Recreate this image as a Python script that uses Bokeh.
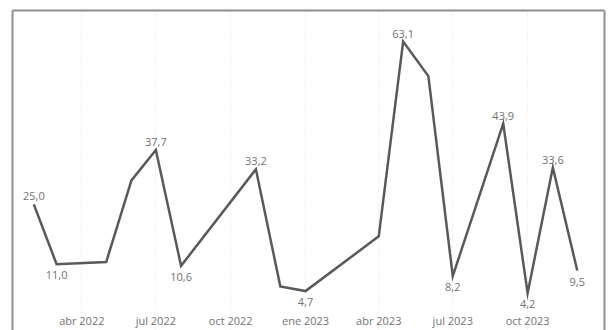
import pandas as pd
from bokeh.plotting import figure
from bokeh.models import ColumnDataSource, Range1d, FixedTicker, LinearAxis
from bokeh.core.properties import value
from bokeh.embed import file_html
from bokeh.resources import INLINE

# Monthly series (months without a record are simply absent)
months = ["2022-02", "2022-03", "2022-05", "2022-06", "2022-07", "2022-08",
          "2022-11", "2022-12", "2023-01", "2023-04", "2023-05", "2023-06",
          "2023-07", "2023-09", "2023-10", "2023-11", "2023-12"]
values = [25.0, 11.0, 11.5, 30.6, 37.7, 10.6,
          33.2, 5.8, 4.7, 17.5, 63.1, 55.0,
          8.2, 43.9, 4.2, 33.6, 9.5]

tick_months = ["2022-04", "2022-07", "2022-10", "2023-01", "2023-04", "2023-07", "2023-10"]
tick_labels = ["abr 2022", "jul 2022", "oct 2022", "ene 2023", "abr 2023", "jul 2023", "oct 2023"]

FONT = "Open Sans"
BORDER = "#8f8f8f"
LINE = "#595959"
TEXT = "#727272"

EPOCH = pd.Timestamp("1970-01-01")
MS = pd.Timedelta(milliseconds=1)


def to_ms(stamps):
    return [float((pd.Timestamp(s) - EPOCH) // MS) for s in stamps]


x = to_ms(pd.to_datetime(months, format="%Y-%m"))
ticks = to_ms(pd.to_datetime(tick_months, format="%Y-%m"))

# label only local peaks/troughs, placed above peaks and below troughs
above = {"x": [], "y": [], "t": []}
below = {"x": [], "y": [], "t": []}
n = len(values)
for i, v in enumerate(values):
    prev_v = values[i - 1] if i > 0 else None
    next_v = values[i + 1] if i < n - 1 else None
    neighbours = [w for w in (prev_v, next_v) if w is not None]
    label = f"{v:.1f}".replace(".", ",")
    if all(v > w for w in neighbours):
        above["x"].append(x[i]); above["y"].append(v); above["t"].append(label)
    elif all(v < w for w in neighbours):
        below["x"].append(x[i]); below["y"].append(v); below["t"].append(label)

day = 86400000.0
x0 = x[0]
p = figure(width=608, height=330, x_axis_type="datetime",
           x_range=Range1d(x0 - 26.2 * day, x0 + 701.5 * day),
           y_range=Range1d(-4.53, 70.36),
           output_backend="svg", toolbar_location=None,
           min_border_left=12, min_border_right=4, min_border_top=10, min_border_bottom=0)
p.outline_line_color = None
p.background_fill_color = "white"
p.border_fill_color = "white"

# x axis drawn inside the frame
xa = p.xaxis[0]
xa.ticker = FixedTicker(ticks=ticks)
xa.major_label_overrides = {t: lab for t, lab in zip(ticks, tick_labels)}
xa.fixed_location = 1.75
xa.axis_line_color = None
xa.major_tick_line_color = None
xa.minor_tick_line_color = None
xa.major_label_standoff = 3
xa.major_label_text_font = FONT
xa.major_label_text_font_size = "11px"
xa.major_label_text_color = TEXT

p.xgrid.grid_line_color = "#e4e4e4"
p.xgrid.grid_line_dash = "1 2"
p.xgrid.grid_line_width = 1
p.ygrid.visible = False


def border_axis(ax):
    ax.ticker = FixedTicker(ticks=[])
    ax.axis_line_color = BORDER
    ax.axis_line_width = 2
    ax.major_tick_line_color = None
    ax.minor_tick_line_color = None
    ax.major_tick_out = 0
    ax.minor_tick_out = 0
    ax.major_label_standoff = 0
    ax.major_label_text_font_size = "0px"


border_axis(p.yaxis[0])
top_axis = LinearAxis()
border_axis(top_axis)
p.add_layout(top_axis, "above")
right_axis = LinearAxis()
border_axis(right_axis)
p.add_layout(right_axis, "right")

p.line(x, values, line_color=LINE, line_width=2.5, line_join="miter")

p.text("x", "y", "t", source=ColumnDataSource(above), text_align="center",
       text_baseline="bottom", y_offset=-4, text_font=value(FONT),
       text_font_size="11px", text_color=TEXT)
p.text("x", "y", "t", source=ColumnDataSource(below), text_align="center",
       text_baseline="top", y_offset=7, text_font=value(FONT),
       text_font_size="11px", text_color=TEXT)

open("out.html", "w").write(file_html(p, INLINE))
